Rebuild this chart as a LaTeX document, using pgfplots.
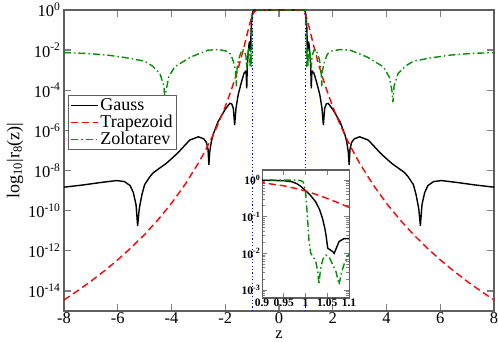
\documentclass[border=0pt]{standalone}
\usepackage{pgfplots}
\pgfplotsset{compat=1.18}
\usepackage{pgfplotstable}
\usepackage{fontspec}
\setmainfont{Liberation Serif}
\definecolor{zgreen}{RGB}{0,145,0}
\definecolor{axgray}{RGB}{95,95,95}

% log10 |r_8(z)|
\pgfplotstableread{
z ly
-8.0 -8.83
-7.3 -8.72
-6.65 -8.6
-6.05 -8.5
-5.75 -8.55
-5.54 -8.75
-5.42 -9.1
-5.32 -9.7
-5.26 -10.75
-5.2 -9.9
-5.1 -9.2
-5.0 -8.7
-4.8 -8.3
-4.67 -8.1
-4.2 -7.65
-3.8 -7.17
-3.32 -6.48
-3.0 -6.32
-2.8 -6.42
-2.7 -6.6
-2.64 -6.95
-2.61 -7.73
-2.58 -7.1
-2.52 -6.57
-2.45 -6.2
-2.27 -5.57
-2.0 -4.95
-1.83 -4.65
-1.76 -4.68
-1.7 -4.9
-1.65 -5.73
-1.6 -4.9
-1.52 -4.23
-1.4 -3.6
-1.3 -3.15
-1.25 -3.07
-1.22 -3.2
-1.2 -3.9
-1.18 -2.8
-1.15 -2.2
-1.12 -1.75
-1.1 -1.6
-1.088 -1.6
-1.077 -1.68
-1.071 -1.85
-1.066 -2.0
-1.062 -1.95
-1.056 -1.9
-1.051 -1.86
-1.047 -1.5
-1.044 -1.3
-1.039 -1.05
-1.032 -0.8
-1.023 -0.59
-1.01 -0.4
-1.0 -0.29
-0.99 -0.18
-0.98 -0.1
-0.968 -0.045
-0.95 -0.02
-0.9 -0.005
-0.8 -0.002
-0.5 0
0 0
0.5 0
0.8 -0.002
0.9 -0.005
0.95 -0.02
0.968 -0.045
0.98 -0.1
0.99 -0.18
1.0 -0.29
1.01 -0.4
1.023 -0.59
1.032 -0.8
1.039 -1.05
1.044 -1.3
1.047 -1.5
1.051 -1.86
1.056 -1.9
1.062 -1.95
1.066 -2.0
1.071 -1.85
1.077 -1.68
1.088 -1.6
1.1 -1.6
1.12 -1.75
1.15 -2.2
1.18 -2.8
1.2 -3.9
1.22 -3.2
1.25 -3.07
1.3 -3.15
1.4 -3.6
1.52 -4.23
1.6 -4.9
1.65 -5.73
1.7 -4.9
1.76 -4.68
1.83 -4.65
2.0 -4.95
2.27 -5.57
2.45 -6.2
2.52 -6.57
2.58 -7.1
2.61 -7.73
2.64 -6.95
2.7 -6.6
2.8 -6.42
3.0 -6.32
3.32 -6.48
3.8 -7.17
4.2 -7.65
4.67 -8.1
4.8 -8.3
5.0 -8.7
5.1 -9.2
5.2 -9.9
5.26 -10.75
5.32 -9.7
5.42 -9.1
5.54 -8.75
5.75 -8.55
6.05 -8.5
6.65 -8.6
7.3 -8.72
8.0 -8.83
}\gauss

\pgfplotstableread{
z ly
-8.0 -14.449
-7.5 -14.0
-7.0 -13.522
-6.5 -13.006
-6.0 -12.45
-5.5 -11.846
-5.0 -11.184
-4.5 -10.451
-4.0 -9.633
-3.5 -8.705
-3.0 -7.634
-2.75 -7.029
-2.5 -6.367
-2.25 -5.635
-2.0 -4.816
-1.75 -3.888
-1.6 -3.268
-1.5 -2.819
-1.4 -2.34
-1.3 -1.829
-1.2 -1.29
-1.15 -1.015
-1.1 -0.748
-1.075 -0.621
-1.05 -0.503
-1.02 -0.375
-1.0 -0.301
-0.98 -0.237
-0.95 -0.158
-0.9 -0.074
-0.85 -0.031
-0.8 -0.012
-0.7 -0.0014
-0.5 0
0 0
0.5 0
0.7 -0.0014
0.8 -0.012
0.85 -0.031
0.9 -0.074
0.95 -0.158
0.98 -0.237
1.0 -0.301
1.02 -0.375
1.05 -0.503
1.075 -0.621
1.1 -0.748
1.15 -1.015
1.2 -1.29
1.3 -1.829
1.4 -2.34
1.5 -2.819
1.6 -3.268
1.75 -3.888
2.0 -4.816
2.25 -5.635
2.5 -6.367
2.75 -7.029
3.0 -7.634
3.5 -8.705
4.0 -9.633
4.5 -10.451
5.0 -11.184
5.5 -11.846
6.0 -12.45
6.5 -13.006
7.0 -13.522
7.5 -14.0
8.0 -14.449
}\trap

\pgfplotstableread{
z ly
-8.0 -2.12
-7.1 -2.17
-6.36 -2.25
-5.68 -2.38
-5.0 -2.55
-4.7 -2.8
-4.43 -3.17
-4.28 -3.8
-4.24 -4.6
-4.2 -4.0
-4.1 -3.33
-3.88 -2.83
-3.6 -2.6
-3.26 -2.33
-2.64 -2.0
-2.26 -1.97
-1.95 -2.05
-1.8 -2.2
-1.7 -2.55
-1.62 -3.0
-1.59 -3.8
-1.56 -2.9
-1.5 -2.45
-1.38 -1.97
-1.3 -2.0
-1.23 -2.3
-1.2 -2.9
-1.17 -2.3
-1.13 -1.97
-1.1 -2.02
-1.09 -2.25
-1.083 -2.5
-1.077 -2.85
-1.07 -2.5
-1.062 -2.3
-1.055 -2.12
-1.047 -2.05
-1.04 -2.15
-1.034 -2.45
-1.031 -2.85
-1.028 -2.5
-1.024 -2.25
-1.018 -2.1
-1.012 -2.0
-1.008 -1.68
-1.004 -0.95
-1.0 -0.3
-0.995 -0.06
-0.99 -0.02
-0.98 -0.003
-0.9 0
0 0
0.9 0
0.98 -0.003
0.99 -0.02
0.995 -0.06
1.0 -0.3
1.004 -0.95
1.008 -1.68
1.012 -2.0
1.018 -2.1
1.024 -2.25
1.028 -2.5
1.031 -2.85
1.034 -2.45
1.04 -2.15
1.047 -2.05
1.055 -2.12
1.062 -2.3
1.07 -2.5
1.077 -2.85
1.083 -2.5
1.09 -2.25
1.1 -2.02
1.13 -1.97
1.17 -2.3
1.2 -2.9
1.23 -2.3
1.3 -2.0
1.38 -1.97
1.5 -2.45
1.56 -2.9
1.59 -3.8
1.62 -3.0
1.7 -2.55
1.8 -2.2
1.95 -2.05
2.26 -1.97
2.64 -2.0
3.26 -2.33
3.6 -2.6
3.88 -2.83
4.1 -3.33
4.2 -4.0
4.24 -4.6
4.28 -3.8
4.43 -3.17
4.7 -2.8
5.0 -2.55
5.68 -2.38
6.36 -2.25
7.1 -2.17
8.0 -2.12
}\zolo

\newcommand\tfs{\fontsize{16.5}{18}\selectfont}
\newcommand\lfs{\fontsize{18}{20}\selectfont}

\begin{document}
\begin{tikzpicture}
\begin{axis}[
  name=main, at={(0pt,0pt)}, anchor=south west,
  scale only axis, width=430pt, height=301pt,
  xmin=-8, xmax=8, ymin=-15, ymax=0,
  xtick={-8,-6,-4,-2,0,2,4,6,8},
  xticklabels={-8,-6,-4,-2,0,2,4,6,8},
  ytick={-14,-12,-10,-8,-6,-4,-2,0},
  yticklabels={10\textsuperscript{-14},10\textsuperscript{-12},10\textsuperscript{-10},10\textsuperscript{-8},10\textsuperscript{-6},10\textsuperscript{-4},10\textsuperscript{-2},10\textsuperscript{0}},
  tick align=inside, major tick length=7pt,
  axis line style={draw=axgray, line width=1.3pt},
  every tick/.style={draw=axgray!80, line width=1.3pt},
  tick label style={font=\tfs},
  xticklabel style={inner sep=0pt, yshift=-1.5pt},
  xlabel={z}, ylabel={log\textsubscript{10}|r\textsubscript{8}(z)|},
  xlabel style={font=\fontsize{16.5}{18}\selectfont, inner sep=0pt, at={(axis description cs:0.5,-0.078)}, anchor=center},
  ylabel style={font=\lfs, at={(axis description cs:-0.114,0.5)}, anchor=center},
  legend style={at={(rel axis cs:0.0093,0.7176)}, anchor=north west,
    draw=axgray, line width=1pt, font=\lfs, fill=white,
    row sep=0pt, inner sep=2pt,
    nodes={inner sep=1.5pt}},
  legend cell align=left,
  legend image code/.code={\draw[#1] (0pt,0pt) -- (27pt,0pt);},
]
\addplot[black, line width=1.4pt] table[x=z, y=ly] {\gauss};
\addlegendentry{Gauss}
\addplot[red, line width=1.4pt, dash pattern=on 7pt off 4pt] table[x=z, y=ly] {\trap};
\addlegendentry{Trapezoid}
\addplot[zgreen, line width=1.4pt, dash pattern=on 7pt off 3pt on 1.5pt off 3pt] table[x=z, y=ly] {\zolo};
\addlegendentry{Zolotarev}
\addplot[blue, line width=1.2pt, dash pattern=on 1.2pt off 2.2pt, forget plot] coordinates {(-1,-15) (-1,0)};
\addplot[blue, line width=1.2pt, dash pattern=on 1.2pt off 2.2pt, forget plot] coordinates {(1,-15) (1,0)};
\end{axis}

\begin{axis}[
  name=inset, at={(198pt,13pt)}, anchor=south west,
  scale only axis, width=87pt, height=128pt,
  xmin=0.9, xmax=1.1, ymin=-3.218, ymax=0.273,
  axis background/.style={fill=white},
  xtick={0.9,0.95,1,1.05,1.1},
  xticklabels={0.9,0.95,1,1.05,1.1},
  ytick={-3,-2,-1,0},
  yticklabels={10\textsuperscript{-3},10\textsuperscript{-2},10\textsuperscript{-1},10\textsuperscript{0}},
  minor ytick={-3.155,-3.097,-3.046,-2.699,-2.523,-2.398,-2.301,-2.222,-2.155,-2.097,-2.046,-1.699,-1.523,-1.398,-1.301,-1.222,-1.155,-1.097,-1.046,-0.699,-0.523,-0.398,-0.301,-0.222,-0.155,-0.097,-0.046},
  tick align=inside, major tick length=5pt, minor tick length=3pt,
  axis line style={draw=axgray, line width=1.1pt},
  every tick/.style={draw=axgray!80, line width=0.9pt},
  tick label style={font=\bfseries\fontsize{11.5}{13}\selectfont},
  xticklabel style={inner sep=1pt},
  yticklabel style={inner sep=1.5pt},
]
\addplot[black, line width=1.4pt] table[x=z, y=ly] {\gauss};
\addplot[red, line width=1.4pt, dash pattern=on 7pt off 4pt] table[x=z, y=ly] {\trap};
\addplot[zgreen, line width=1.4pt, dash pattern=on 7pt off 3pt on 1.5pt off 3pt] table[x=z, y=ly] {\zolo};
\end{axis}
\pgfresetboundingbox
\useasboundingbox (-64pt,-31pt) rectangle (434pt,311pt);
\end{tikzpicture}
\end{document}
